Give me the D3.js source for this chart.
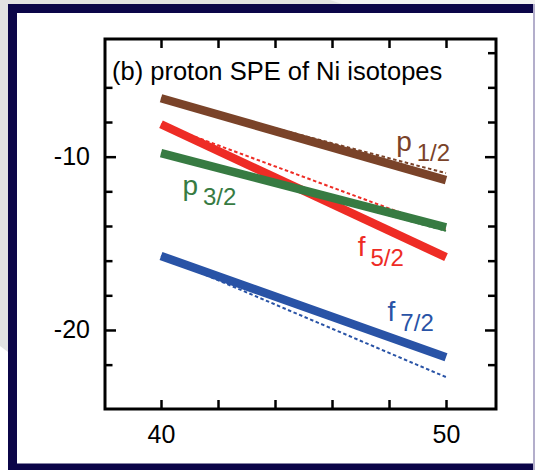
<!DOCTYPE html>
<html>
<head>
<meta charset="utf-8">
<script src="https://cdn.jsdelivr.net/npm/d3@7"></script>
<style>
  html, body { margin: 0; padding: 0; background: #e2e2e2; }
  svg { display: block; }
  text { font-family: "Liberation Sans", Arial, Helvetica, sans-serif; }
</style>
</head>
<body>
<svg id="chart" width="535" height="470"></svg>
<script>
// Neutron number of the Ni isotopes
const neutronNumbers = [40, 50];

// Proton single-particle energies (MeV): thick solid lines
const p12Solid = [-6.63, -11.35];
const f52Solid = [-8.13, -15.8];
const p32Solid = [-9.8, -14.08];
const f72Solid = [-15.73, -21.58];

// Companion calculation: thin dotted lines
const p12Dotted = [-6.63, -10.95];
const f52Dotted = [-8.13, -14.2];
const p32Dotted = [-9.8, -14.28];
const f72Dotted = [-15.73, -22.72];

// Orbit labels (letter, subscript)
const orbitNames = ["p", "f", "p", "f"];
const orbitSubs = ["1/2", "5/2", "3/2", "7/2"];

const xTicksMajor = [40, 50];
const xTicksAll = [40, 42, 44, 46, 48, 50];
const yTicksMajor = [-10, -20];
const yTicksLeftMinor = [-22, -18, -16, -14, -12, -8, -6];
const yTicksRightMinor = [-22, -18, -16, -14, -12, -8, -6, -4];

const colors = {
  p12: "#7a4329",
  f52: "#ee2c25",
  p32: "#377b42",
  f72: "#2953a6"
};

const svg = d3.select("#chart");

// Slide backdrop and dark frame
svg.append("rect").attr("x", 0).attr("y", 0).attr("width", 535).attr("height", 470).attr("fill", "#e2e2e2");
svg.append("polygon").attr("points", "0,346 8,352 8,470 0,470").attr("fill", "#ffffff");
svg.append("polygon").attr("points", "330,0 535,0 535,4 342,4").attr("fill", "#f2f2f2");
svg.append("rect").attr("x", 8).attr("y", 4).attr("width", 527).attr("height", 466).attr("fill", "#0b0548");
svg.append("rect").attr("x", 17).attr("y", 13).attr("width", 516).attr("height", 450.5).attr("fill", "#ffffff");
svg.append("rect").attr("x", 533).attr("y", 4).attr("width", 2).attr("height", 466).attr("fill", "#b3aecb");

// Plot box
const plotLeft = 105, plotRight = 496, plotTop = 39, plotBottom = 409;
const x = d3.scaleLinear().domain([38.035, 51.754]).range([plotLeft, plotRight]);
const y = d3.scaleLinear().domain([-24.56, -3.21]).range([plotBottom, plotTop]);

const line = d3.line().x((d, i) => x(neutronNumbers[i])).y(d => d);

function drawSeries(values, color, width, dash) {
  svg.append("path")
    .datum(values.map(v => y(v)))
    .attr("d", line)
    .attr("fill", "none")
    .attr("stroke", color)
    .attr("stroke-width", width)
    .attr("stroke-dasharray", dash || null);
}

// Dotted lines underneath
drawSeries(p12Dotted, colors.p12, 2, "3.5,2.5");
drawSeries(f52Dotted, colors.f52, 2, "3.5,2.5");
drawSeries(p32Dotted, colors.p32, 2, "3.5,2.5");
drawSeries(f72Dotted, colors.f72, 2, "3.5,2.5");

// Solid lines on top
drawSeries(f72Solid, colors.f72, 8.5);
drawSeries(f52Solid, colors.f52, 8.5);
drawSeries(p32Solid, colors.p32, 8.5);
drawSeries(p12Solid, colors.p12, 8.5);

// Axes with inward ticks
const fmt = d => String(d);
function styleAxis(g) {
  g.select(".domain").remove();
  g.selectAll(".tick line").attr("stroke", "#000").attr("stroke-width", 2.5);
  g.selectAll(".tick text").attr("fill", "#000").attr("font-size", 25);
}

svg.append("g").attr("transform", `translate(0,${plotBottom})`)
  .call(d3.axisBottom(x).tickValues(xTicksAll).tickSizeInner(-9).tickSizeOuter(0).tickPadding(16)
    .tickFormat(d => xTicksMajor.includes(d) ? fmt(d) : ""))
  .call(styleAxis);

svg.append("g").attr("transform", `translate(0,${plotTop})`)
  .call(d3.axisTop(x).tickValues(xTicksAll).tickSizeInner(-9).tickSizeOuter(0).tickFormat(""))
  .call(styleAxis);

svg.append("g").attr("transform", `translate(${plotLeft},0)`)
  .call(d3.axisLeft(y).tickValues(yTicksMajor).tickSizeInner(-11).tickSizeOuter(0).tickPadding(15).tickFormat(fmt))
  .call(styleAxis);
svg.append("g").attr("transform", `translate(${plotLeft},0)`)
  .call(d3.axisLeft(y).tickValues(yTicksLeftMinor).tickSizeInner(-7.5).tickSizeOuter(0).tickFormat(""))
  .call(styleAxis);

svg.append("g").attr("transform", `translate(${plotRight},0)`)
  .call(d3.axisRight(y).tickValues(yTicksMajor).tickSizeInner(-11).tickSizeOuter(0).tickFormat(""))
  .call(styleAxis);
svg.append("g").attr("transform", `translate(${plotRight},0)`)
  .call(d3.axisRight(y).tickValues(yTicksRightMinor).tickSizeInner(-8).tickSizeOuter(0).tickFormat(""))
  .call(styleAxis);

svg.append("rect")
  .attr("x", plotLeft).attr("y", plotTop).attr("width", plotRight - plotLeft).attr("height", plotBottom - plotTop)
  .attr("fill", "none").attr("stroke", "#000").attr("stroke-width", 3);

// Panel title
svg.append("text").attr("x", 112).attr("y", 80).attr("font-size", 25.5).attr("fill", "#000")
  .text("(b) proton SPE of Ni isotopes");

// Orbit labels
const labelPos = [
  { n: 48.25, e: -9.65, key: "p12" },
  { n: 46.9, e: -15.75, key: "f52" },
  { n: 40.75, e: -12.2, key: "p32" },
  { n: 47.95, e: -19.5, key: "f72" }
];
labelPos.forEach((p, i) => {
  const t = svg.append("text")
    .attr("x", x(p.n)).attr("y", y(p.e))
    .attr("fill", colors[p.key]).attr("font-size", 28);
  t.append("tspan").text(orbitNames[i]);
  t.append("tspan").attr("dx", 5).attr("dy", 10).attr("font-size", 24).text(orbitSubs[i]);
});
</script>
</body>
</html>
